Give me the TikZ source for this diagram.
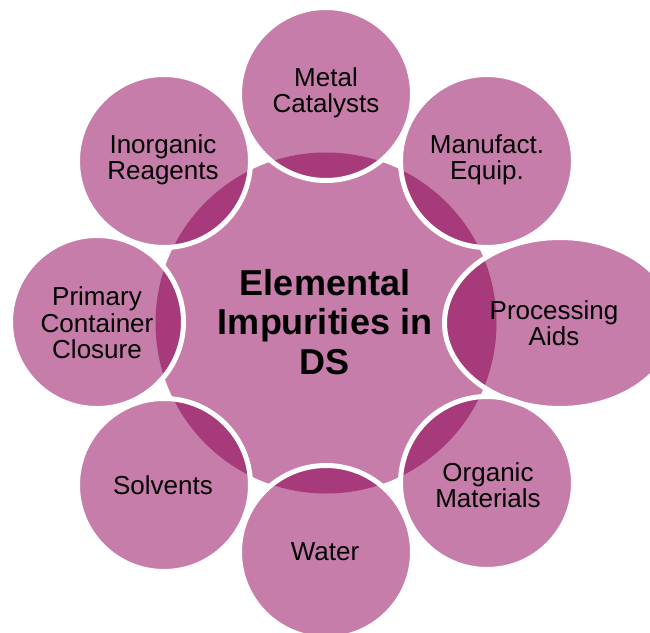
\documentclass[tikz,border=0pt]{standalone}
\usepackage{fontspec}
\setmainfont{Liberation Sans}
\definecolor{basepink}{RGB}{198,125,170}
\definecolor{darkpink}{RGB}{166,58,122}
\begin{document}
\begin{tikzpicture}[x=1pt,y=-1pt,
  lab/.style={align=center, font=\fontsize{26}{26.5}\selectfont, inner sep=0pt},
  ctr/.style={align=center, font=\fontsize{36}{39.5}\selectfont\bfseries, inner sep=0pt},
  ring/.style={draw=white, line width=5pt}]
\useasboundingbox (0,0) rectangle (650,632);
\def\R{86.5}
% central circle
\fill[basepink] (326,323) circle [radius=170.5];
% outer shapes
\foreach \cx/\cy in {326/94, 164/161, 487/161, 487/483, 326/552, 164/485, 97/322}
  \fill[basepink] (\cx,\cy) circle [radius=\R];
\fill[basepink] (560,323) ellipse [x radius=115.5, y radius=85.5];
% overlaps with central circle
\begin{scope}
  \clip (326,323) circle [radius=170.5];
  \foreach \cx/\cy in {326/94, 164/161, 487/161, 487/483, 326/552, 164/485, 97/322}
    \fill[darkpink] (\cx,\cy) circle [radius=\R];
  \fill[darkpink] (560,323) ellipse [x radius=115.5, y radius=85.5];
\end{scope}
% white rims
\foreach \cx/\cy in {326/94, 164/161, 487/161, 487/483, 326/552, 164/485, 97/322}
  \draw[ring] (\cx,\cy) circle [radius=\R];
\draw[ring] (560,323) ellipse [x radius=115.5, y radius=85.5];
% labels
\node[ctr] (centre) at (325,322) {Elemental\\Impurities in\\DS};
\node[lab] (metal) at (326,93) {Metal\\Catalysts};
\node[lab] (inorg) at (163,160) {Inorganic\\Reagents};
\node[lab] (manuf) at (487,160) {Manufact.\\Equip.};
\node[lab] (proc) at (554,323) {Processing\\Aids};
\node[lab] (organic) at (488,485) {Organic\\Materials};
\node[lab] (water) at (325,552) {Water};
\node[lab] (solv) at (163,485) {Solvents};
\node[lab] (primary) at (97,323) {Primary\\Container\\Closure};
\end{tikzpicture}
\end{document}
